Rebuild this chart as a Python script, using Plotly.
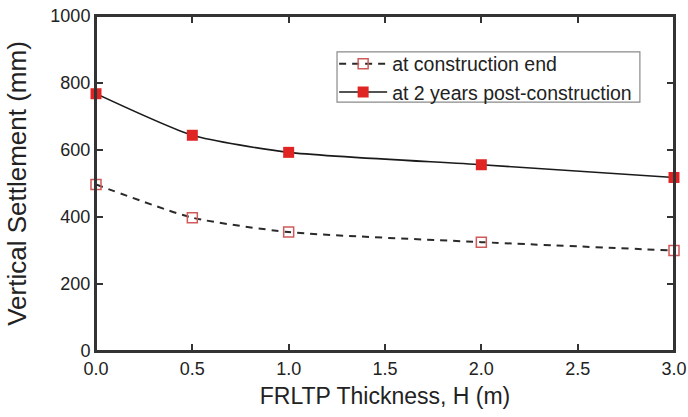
import plotly.graph_objects as go

thickness = [0.0, 0.5, 1.0, 2.0, 3.0]
end_construction = [497, 398, 355, 325, 300]
two_years = [768, 644, 593, 556, 518]
x_ticks = [0.0, 0.5, 1.0, 1.5, 2.0, 2.5, 3.0]
x_tick_labels = ["0.0", "0.5", "1.0", "1.5", "2.0", "2.5", "3.0"]
y_ticks = [0, 200, 400, 600, 800, 1000]

font_family = "Liberation Sans, Arial, sans-serif"

fig = go.Figure()
fig.add_trace(go.Scatter(
    x=thickness, y=end_construction, name="at construction end",
    mode="lines+markers",
    line=dict(color="#2a2a2a", width=2, dash="7px,6px", shape="spline", smoothing=0.6),
    marker=dict(symbol="square-open", size=10, color="#d05a5a", line=dict(width=1.5)),
    cliponaxis=False,
))
fig.add_trace(go.Scatter(
    x=thickness, y=two_years, name="at 2 years post-construction",
    mode="lines+markers",
    line=dict(color="#1a1a1a", width=1.6, shape="spline", smoothing=0.6),
    marker=dict(symbol="square", size=11, color="#e02424"),
    cliponaxis=False,
))

axis_common = dict(
    showline=True, linecolor="#333333", linewidth=2, mirror="allticks",
    ticks="inside", ticklen=7, tickwidth=1.5, tickcolor="#333333",
    showgrid=False, zeroline=False, automargin=False,
    ticklabeloverflow="allow",
    tickfont=dict(family=font_family, size=18, color="#222222"),
    title_font=dict(family=font_family, size=23, color="#222222"),
)

fig.update_xaxes(range=[0, 3.0], tickvals=x_ticks, ticktext=x_tick_labels,
                 title_text="FRLTP Thickness, H (m)", title_standoff=10, **axis_common)
fig.update_yaxes(range=[0, 1000], tickvals=y_ticks,
                 title_text="Vertical Settlement (mm)", title_standoff=16, **axis_common)
fig.update_yaxes(title_font_size=26)

# plot frame (full box)
fig.add_shape(type="rect", xref="paper", yref="paper", x0=0, x1=1, y0=0, y1=1,
              line=dict(color="#333333", width=2), fillcolor="rgba(0,0,0,0)", layer="above")
# legend frame drawn as a paper-anchored rectangle
fig.add_shape(type="rect", xref="paper", yref="paper",
              x0=0.417, x1=0.941, y0=0.743, y1=0.893,
              line=dict(color="#8a8a8a", width=1.2), fillcolor="white", layer="above")

fig.update_layout(
    width=688, height=417,
    margin=dict(l=96, r=14, t=16, b=66),
    paper_bgcolor="white", plot_bgcolor="white",
    font=dict(family=font_family, color="#222222"),
    legend=dict(
        x=0.412, y=0.915, xanchor="left", yanchor="top",
        bgcolor="rgba(0,0,0,0)", borderwidth=0,
        font=dict(family=font_family, size=19.5, color="#222222"),
        tracegroupgap=0, itemwidth=48,
    ),
    showlegend=True,
)

fig.write_html("out.html", config={"displayModeBar": False},
               post_script="document.body.style.margin='0';document.body.style.overflow='hidden';")
